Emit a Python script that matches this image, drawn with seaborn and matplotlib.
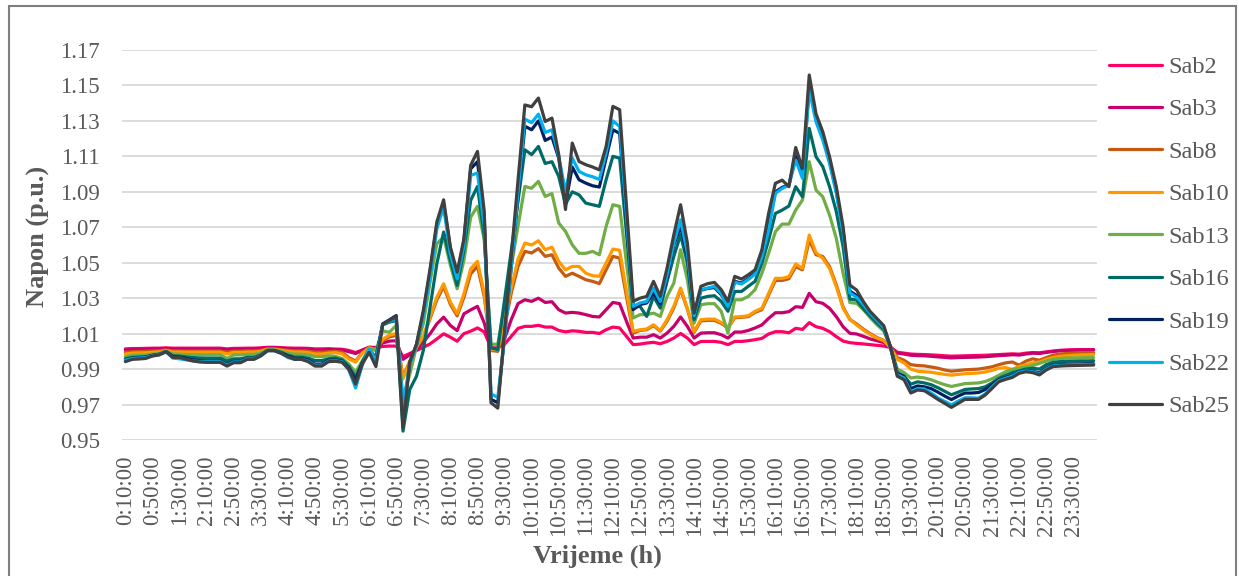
import matplotlib
matplotlib.use("Agg")
import matplotlib.pyplot as plt
import numpy as np
import pandas as pd
import seaborn as sns
from matplotlib.lines import Line2D
from matplotlib.patches import Rectangle

# ---------------- data ----------------
series_names = ["Sab2", "Sab3", "Sab8", "Sab10", "Sab13", "Sab16", "Sab19", "Sab22", "Sab25"]
series_colors = ["#FF0066", "#C8006E", "#C55A11", "#FF9900", "#70AD47",
                 "#006B66", "#002060", "#00B0F0", "#404040"]

# time categories: every 10 minutes from 0:10:00
time_labels = [f"{((k + 1) * 10) // 60}:{((k + 1) * 10) % 60:02d}:00" for k in range(144)]

sab2 = [1.0014, 1.0016, 1.0016, 1.0017, 1.0018, 1.0018, 1.0020, 1.0018, 1.0018, 1.0018, 1.0018, 1.0018, 1.0018, 1.0018, 1.0018, 1.0014, 1.0017, 1.0017, 1.0018, 1.0018, 1.0020, 1.0023, 1.0023, 1.0021, 1.0019, 1.0018, 1.0018, 1.0017, 1.0014, 1.0014, 1.0015,
        1.0013, 1.0012, 1.0005, 0.9993, 1.0008, 1.0023, 1.0020, 1.0028, 1.0030, 1.0030,
        0.9970, 0.9988, 1.0005, 1.0023, 1.0042, 1.0070, 1.0099, 1.0080, 1.0057, 1.0100,
        1.0114, 1.0132, 1.0110, 1.0020, 1.0020, 1.0040, 1.0085, 1.0130, 1.0141, 1.0141,
        1.0147, 1.0137, 1.0137, 1.0118, 1.0110, 1.0116, 1.0113, 1.0107, 1.0107, 1.0101,
        1.0122, 1.0137, 1.0132, 1.0085, 1.0038, 1.0041, 1.0047, 1.0051, 1.0043, 1.0056,
        1.0075, 1.0101, 1.0075, 1.0038, 1.0056, 1.0056, 1.0056, 1.0051, 1.0038, 1.0056,
        1.0056, 1.0060, 1.0066, 1.0073, 1.0098, 1.0111, 1.0111, 1.0105, 1.0130, 1.0124,
        1.0162, 1.0139, 1.0130, 1.0111, 1.0083, 1.0058, 1.0049, 1.0045, 1.0042, 1.0038,
        1.0034, 1.0030, 1.0022, 0.9995, 0.9990, 0.9985, 0.9983, 0.9982, 0.9980, 0.9978,
        0.9975, 0.9973, 0.9974, 0.9975, 0.9976, 0.9977, 0.9978, 0.9980, 0.9982, 0.9984,
        0.9986, 0.9984, 0.9990, 0.9993, 0.9992, 0.9997, 1.0002, 1.0006, 1.0008, 1.0009, 1.0010, 1.0010, 1.0010]

sab3 = [1.0008, 1.0010, 1.0011, 1.0012, 1.0013, 1.0014, 1.0016, 1.0013, 1.0013, 1.0013, 1.0013, 1.0013, 1.0013, 1.0013, 1.0013, 1.0008, 1.0012, 1.0012, 1.0013, 1.0014, 1.0016, 1.0020, 1.0020, 1.0018, 1.0015, 1.0013, 1.0013, 1.0012, 1.0008, 1.0008, 1.0010,
        1.0010, 1.0008, 0.9998, 0.9988, 1.0005, 1.0023, 1.0022, 1.0047, 1.0058, 1.0060,
        0.9955, 0.9980, 1.0008, 1.0052, 1.0099, 1.0155, 1.0193, 1.0146, 1.0117, 1.0212,
        1.0234, 1.0254, 1.0160, 1.0015, 1.0015, 1.0070, 1.0180, 1.0270, 1.0291, 1.0282,
        1.0300, 1.0276, 1.0280, 1.0235, 1.0216, 1.0220, 1.0216, 1.0207, 1.0197, 1.0194,
        1.0235, 1.0276, 1.0269, 1.0170, 1.0075, 1.0080, 1.0080, 1.0094, 1.0075, 1.0103,
        1.0141, 1.0194, 1.0141, 1.0075, 1.0103, 1.0105, 1.0105, 1.0094, 1.0075, 1.0109,
        1.0109, 1.0118, 1.0132, 1.0149, 1.0186, 1.0218, 1.0218, 1.0224, 1.0252, 1.0248,
        1.0327, 1.0280, 1.0271, 1.0243, 1.0196, 1.0139, 1.0102, 1.0098, 1.0085, 1.0070,
        1.0060, 1.0050, 1.0025, 0.9990, 0.9985, 0.9978, 0.9976, 0.9975, 0.9972, 0.9969,
        0.9966, 0.9963, 0.9965, 0.9966, 0.9967, 0.9968, 0.9970, 0.9973, 0.9976, 0.9978,
        0.9981, 0.9979, 0.9985, 0.9990, 0.9988, 0.9994, 0.9999, 1.0003, 1.0005, 1.0006, 1.0007, 1.0008, 1.0008]

sab8 = [0.9995, 0.9998, 0.9999, 1.0000, 1.0002, 1.0004, 1.0008, 1.0003, 1.0003, 1.0002, 1.0002, 1.0002, 1.0002, 1.0002, 1.0002, 0.9995, 1.0001, 1.0001, 1.0003, 1.0003, 1.0006, 1.0014, 1.0014, 1.0010, 1.0006, 1.0003, 1.0003, 1.0001, 0.9995, 0.9995, 0.9998,
        1.0000, 0.9995, 0.9965, 0.9945, 0.9993, 1.0021, 1.0012, 1.0060, 1.0082, 1.0090,
        0.9854, 0.9945, 1.0020, 1.0080, 1.0185, 1.0290, 1.0366, 1.0265, 1.0200, 1.0305,
        1.0437, 1.0480, 1.0310, 1.0005, 1.0000, 1.0140, 1.0330, 1.0480, 1.0564, 1.0555,
        1.0580, 1.0536, 1.0545, 1.0470, 1.0423, 1.0441, 1.0423, 1.0404, 1.0395, 1.0382,
        1.0460, 1.0536, 1.0526, 1.0310, 1.0103, 1.0118, 1.0122, 1.0145, 1.0114, 1.0170,
        1.0245, 1.0350, 1.0238, 1.0108, 1.0172, 1.0175, 1.0175, 1.0158, 1.0132, 1.0190,
        1.0192, 1.0196, 1.0220, 1.0235, 1.0318, 1.0400, 1.0400, 1.0410, 1.0478, 1.0460,
        1.0628, 1.0545, 1.0535, 1.0478, 1.0375, 1.0250, 1.0180, 1.0155, 1.0125, 1.0100,
        1.0078, 1.0062, 1.0025, 0.9965, 0.9950, 0.9925, 0.9920, 0.9918, 0.9912, 0.9905,
        0.9895, 0.9888, 0.9892, 0.9896, 0.9898, 0.9900, 0.9906, 0.9913, 0.9925, 0.9935,
        0.9940, 0.9922, 0.9945, 0.9958, 0.9950, 0.9965, 0.9978, 0.9985, 0.9988, 0.9990, 0.9991, 0.9992, 0.9992]

sab10 = [0.9985, 0.9990, 0.9991, 0.9992, 0.9995, 0.9997, 1.0004, 0.9996, 0.9996, 0.9995, 0.9995, 0.9995, 0.9995, 0.9995, 0.9995, 0.9985, 0.9994, 0.9994, 0.9996, 0.9996, 1.0000, 1.0012, 1.0012, 1.0006, 1.0000, 0.9996, 0.9996, 0.9993, 0.9985, 0.9985, 0.9990,
         0.9993, 0.9986, 0.9957, 0.9939, 0.9990, 1.0020, 1.0008, 1.0068, 1.0092, 1.0100,
         0.9845, 0.9940, 1.0025, 1.0089, 1.0193, 1.0306, 1.0381, 1.0278, 1.0212, 1.0325,
         1.0466, 1.0508, 1.0330, 1.0010, 1.0010, 1.0160, 1.0360, 1.0520, 1.0611, 1.0600,
         1.0624, 1.0573, 1.0588, 1.0508, 1.0460, 1.0479, 1.0479, 1.0441, 1.0427, 1.0423,
         1.0498, 1.0577, 1.0570, 1.0340, 1.0113, 1.0122, 1.0126, 1.0150, 1.0118, 1.0179,
         1.0254, 1.0357, 1.0244, 1.0113, 1.0179, 1.0182, 1.0182, 1.0163, 1.0137, 1.0194,
         1.0196, 1.0201, 1.0226, 1.0243, 1.0327, 1.0412, 1.0412, 1.0421, 1.0493, 1.0468,
         1.0656, 1.0557, 1.0525, 1.0468, 1.0365, 1.0243, 1.0180, 1.0149, 1.0120, 1.0095,
         1.0075, 1.0060, 1.0022, 0.9955, 0.9935, 0.9900, 0.9888, 0.9885, 0.9882, 0.9876,
         0.9870, 0.9866, 0.9870, 0.9874, 0.9876, 0.9878, 0.9884, 0.9893, 0.9905, 0.9908,
         0.9898, 0.9915, 0.9925, 0.9935, 0.9940, 0.9955, 0.9965, 0.9972, 0.9975, 0.9978, 0.9980, 0.9981, 0.9982]

sab13 = [0.9970, 0.9977, 0.9979, 0.9980, 0.9985, 0.9988, 1.0000, 0.9985, 0.9984, 0.9982, 0.9982, 0.9981, 0.9981, 0.9981, 0.9981, 0.9960, 0.9980, 0.9980, 0.9983, 0.9983, 0.9990, 1.0008, 1.0008, 1.0000, 0.9990, 0.9984, 0.9984, 0.9980, 0.9970, 0.9970, 0.9975,
         0.9972, 0.9960, 0.9929, 0.9882, 0.9948, 1.0014, 1.0005, 1.0115, 1.0108, 1.0146,
         0.9740, 0.9870, 1.0030, 1.0155, 1.0391, 1.0607, 1.0645, 1.0485, 1.0353, 1.0513,
         1.0758, 1.0818, 1.0630, 1.0040, 1.0040, 1.0260, 1.0480, 1.0710, 1.0930, 1.0920,
         1.0959, 1.0874, 1.0890, 1.0724, 1.0677, 1.0601, 1.0553, 1.0553, 1.0564, 1.0545,
         1.0705, 1.0827, 1.0818, 1.0500, 1.0188, 1.0207, 1.0207, 1.0216, 1.0197, 1.0310,
         1.0385, 1.0573, 1.0404, 1.0160, 1.0263, 1.0269, 1.0269, 1.0226, 1.0103, 1.0291,
         1.0291, 1.0310, 1.0348, 1.0440, 1.0553, 1.0675, 1.0718, 1.0718, 1.0797, 1.0854,
         1.1070, 1.0910, 1.0872, 1.0769, 1.0637, 1.0440, 1.0275, 1.0271, 1.0235, 1.0190,
         1.0150, 1.0115, 1.0025, 0.9900, 0.9880, 0.9850, 0.9855, 0.9850, 0.9840, 0.9825,
         0.9812, 0.9802, 0.9810, 0.9818, 0.9820, 0.9822, 0.9830, 0.9845, 0.9865, 0.9885,
         0.9898, 0.9905, 0.9912, 0.9920, 0.9932, 0.9945, 0.9955, 0.9960, 0.9962, 0.9963, 0.9964, 0.9965, 0.9965]

sab16 = [0.9958, 0.9966, 0.9968, 0.9970, 0.9978, 0.9984, 0.9999, 0.9975, 0.9973, 0.9968, 0.9965, 0.9963, 0.9962, 0.9962, 0.9962, 0.9945, 0.9958, 0.9958, 0.9966, 0.9966, 0.9980, 1.0006, 1.0006, 0.9995, 0.9978, 0.9968, 0.9968, 0.9962, 0.9948, 0.9948, 0.9958,
         0.9962, 0.9952, 0.9915, 0.9854, 0.9940, 1.0008, 0.9967, 1.0150, 1.0165, 1.0174,
         0.9550, 0.9785, 0.9860, 1.0005, 1.0249, 1.0494, 1.0673, 1.0513, 1.0372, 1.0569,
         1.0852, 1.0930, 1.0650, 1.0020, 1.0010, 1.0290, 1.0570, 1.0850, 1.1137, 1.1110,
         1.1156, 1.1060, 1.1070, 1.0987, 1.0830, 1.0900, 1.0883, 1.0836, 1.0827, 1.0818,
         1.0968, 1.1100, 1.1090, 1.0670, 1.0250, 1.0254, 1.0197, 1.0310, 1.0244, 1.0395,
         1.0536, 1.0658, 1.0498, 1.0179, 1.0300, 1.0310, 1.0314, 1.0282, 1.0226, 1.0338,
         1.0338, 1.0367, 1.0395, 1.0496, 1.0628, 1.0778, 1.0797, 1.0820, 1.0929, 1.0872,
         1.1258, 1.1098, 1.1042, 1.0929, 1.0788, 1.0590, 1.0295, 1.0290, 1.0240, 1.0200,
         1.0160, 1.0125, 1.0025, 0.9880, 0.9860, 0.9815, 0.9828, 0.9822, 0.9812, 0.9795,
         0.9775, 0.9755, 0.9770, 0.9785, 0.9788, 0.9790, 0.9800, 0.9822, 0.9848, 0.9865,
         0.9880, 0.9890, 0.9900, 0.9905, 0.9900, 0.9925, 0.9938, 0.9942, 0.9944, 0.9945, 0.9946, 0.9946, 0.9947]

sab19 = [0.9952, 0.9962, 0.9964, 0.9967, 0.9977, 0.9983, 0.9999, 0.9970, 0.9968, 0.9960, 0.9952, 0.9948, 0.9946, 0.9946, 0.9946, 0.9928, 0.9944, 0.9944, 0.9960, 0.9960, 0.9978, 1.0005, 1.0005, 0.9992, 0.9974, 0.9960, 0.9960, 0.9950, 0.9928, 0.9928, 0.9950,
         0.9950, 0.9945, 0.9905, 0.9835, 0.9935, 1.0000, 0.9955, 1.0155, 1.0178, 1.0202,
         0.9628, 0.9935, 1.0038, 1.0215, 1.0450, 1.0712, 1.0835, 1.0580, 1.0430, 1.0625,
         1.1030, 1.1070, 1.0750, 0.9730, 0.9710, 1.0090, 1.0480, 1.0880, 1.1270, 1.1250,
         1.1300, 1.1190, 1.1209, 1.1090, 1.0830, 1.1040, 1.0968, 1.0949, 1.0934, 1.0927,
         1.1090, 1.1250, 1.1230, 1.0730, 1.0235, 1.0264, 1.0273, 1.0330, 1.0270, 1.0420,
         1.0600, 1.0705, 1.0540, 1.0195, 1.0345, 1.0355, 1.0360, 1.0320, 1.0260, 1.0395,
         1.0385, 1.0410, 1.0440, 1.0545, 1.0712, 1.0900, 1.0925, 1.0940, 1.1100, 1.0990,
         1.1500, 1.1310, 1.1210, 1.1075, 1.0905, 1.0680, 1.0340, 1.0315, 1.0270, 1.0218,
         1.0178, 1.0140, 1.0022, 0.9875, 0.9858, 0.9790, 0.9805, 0.9800, 0.9790, 0.9770,
         0.9748, 0.9728, 0.9748, 0.9765, 0.9765, 0.9768, 0.9785, 0.9812, 0.9840, 0.9852,
         0.9862, 0.9883, 0.9892, 0.9888, 0.9878, 0.9905, 0.9922, 0.9925, 0.9927, 0.9928, 0.9929, 0.9930, 0.9930]

sab22 = [0.9950, 0.9960, 0.9962, 0.9965, 0.9975, 0.9982, 0.9998, 0.9962, 0.9958, 0.9952, 0.9946, 0.9943, 0.9942, 0.9942, 0.9942, 0.9922, 0.9940, 0.9940, 0.9958, 0.9958, 0.9976, 1.0004, 1.0004, 0.9990, 0.9965, 0.9955, 0.9955, 0.9945, 0.9922, 0.9922, 0.9945,
         0.9947, 0.9942, 0.9895, 0.9794, 0.9925, 1.0014, 0.9948, 1.0148, 1.0170, 1.0183,
         0.9684, 0.9930, 1.0035, 1.0200, 1.0419, 1.0692, 1.0814, 1.0550, 1.0409, 1.0598,
         1.0993, 1.1006, 1.0710, 0.9760, 0.9740, 1.0070, 1.0480, 1.0900, 1.1310, 1.1290,
         1.1338, 1.1235, 1.1250, 1.1100, 1.0900, 1.1090, 1.1015, 1.0996, 1.0985, 1.0970,
         1.1120, 1.1300, 1.1269, 1.0760, 1.0254, 1.0273, 1.0282, 1.0357, 1.0282, 1.0433,
         1.0610, 1.0742, 1.0555, 1.0200, 1.0348, 1.0357, 1.0367, 1.0326, 1.0254, 1.0390,
         1.0380, 1.0405, 1.0435, 1.0534, 1.0684, 1.0891, 1.0919, 1.0938, 1.1079, 1.0976,
         1.1474, 1.1295, 1.1192, 1.1060, 1.0891, 1.0670, 1.0330, 1.0305, 1.0265, 1.0215,
         1.0175, 1.0135, 1.0022, 0.9868, 0.9850, 0.9772, 0.9790, 0.9788, 0.9765, 0.9738,
         0.9718, 0.9698, 0.9720, 0.9738, 0.9738, 0.9736, 0.9760, 0.9800, 0.9835, 0.9848,
         0.9860, 0.9882, 0.9890, 0.9885, 0.9872, 0.9900, 0.9918, 0.9921, 0.9923, 0.9924, 0.9925, 0.9926, 0.9926]

sab25 = [0.9942, 0.9955, 0.9957, 0.9960, 0.9974, 0.9980, 0.9998, 0.9966, 0.9966, 0.9955, 0.9946, 0.9940, 0.9938, 0.9938, 0.9938, 0.9917, 0.9936, 0.9936, 0.9955, 0.9955, 0.9974, 1.0004, 1.0004, 0.9989, 0.9970, 0.9955, 0.9955, 0.9942, 0.9917, 0.9917, 0.9942,
         0.9944, 0.9939, 0.9900, 0.9816, 0.9929, 0.9995, 0.9914, 1.0150, 1.0174, 1.0197,
         0.9570, 0.9940, 1.0042, 1.0230, 1.0466, 1.0730, 1.0855, 1.0588, 1.0447, 1.0635,
         1.1050, 1.1128, 1.0790, 0.9710, 0.9680, 1.0110, 1.0540, 1.0970, 1.1390, 1.1380,
         1.1429, 1.1297, 1.1316, 1.1110, 1.0800, 1.1175, 1.1071, 1.1053, 1.1040, 1.1024,
         1.1156, 1.1382, 1.1363, 1.0820, 1.0282, 1.0300, 1.0310, 1.0395, 1.0310, 1.0470,
         1.0658, 1.0827, 1.0611, 1.0216, 1.0367, 1.0382, 1.0389, 1.0348, 1.0282, 1.0423,
         1.0408, 1.0432, 1.0460, 1.0572, 1.0778, 1.0948, 1.0966, 1.0929, 1.1150, 1.1032,
         1.1559, 1.1340, 1.1239, 1.1098, 1.0929, 1.0703, 1.0374, 1.0346, 1.0280, 1.0225,
         1.0185, 1.0145, 1.0025, 0.9860, 0.9840, 0.9765, 0.9782, 0.9778, 0.9754, 0.9729,
         0.9707, 0.9684, 0.9707, 0.9729, 0.9729, 0.9729, 0.9754, 0.9791, 0.9829, 0.9842,
         0.9853, 0.9876, 0.9885, 0.9880, 0.9867, 0.9895, 0.9914, 0.9917, 0.9919, 0.9920, 0.9921, 0.9922, 0.9923]

y_ticks = [0.95, 0.97, 0.99, 1.01, 1.03, 1.05, 1.07, 1.09, 1.11, 1.13, 1.15, 1.17]

series_values = [sab2, sab3, sab8, sab10, sab13, sab16, sab19, sab22, sab25]

# ---------------- style ----------------
sns.set_theme(style="white")
plt.rcParams['font.family'] = ['Liberation Serif', 'DejaVu Serif']
TXT = "#595959"

frames = []
for name, vals in zip(series_names, series_values):
    frames.append(pd.DataFrame({"idx": np.arange(len(vals)), "time": time_labels[:len(vals)],
                                "Napon": vals, "series": name}))
df = pd.concat(frames, ignore_index=True)

W, H = 1239, 576
fig = plt.figure(figsize=(W / 100, H / 100), dpi=100)
ax = fig.add_axes([122 / W, 1 - 440 / H, (1097 - 122) / W, (440 - 50) / H])

sns.lineplot(data=df, x="idx", y="Napon", hue="series", hue_order=series_names,
             palette=series_colors, linewidth=2.3, legend=False, ax=ax, sort=False)

ax.set_xlim(-0.5, 143.5)
ax.set_ylim(0.95, 1.17)
ax.set_yticks(y_ticks)
ax.set_yticklabels([f"{v:.2f}" for v in y_ticks])
tick_pos = list(range(0, 144, 4))
ax.set_xticks(tick_pos)
ax.set_xticklabels([time_labels[i] for i in tick_pos], rotation=90)
ax.grid(False)
ax.yaxis.grid(True, color="#D9D9D9", linewidth=1.3)
ax.set_axisbelow(True)
for s in ax.spines.values():
    s.set_visible(False)
ax.tick_params(axis="y", length=0, pad=16, labelsize=16.5, labelcolor=TXT)
ax.tick_params(axis="x", length=0, pad=11, labelsize=16.5, labelcolor=TXT)
ax.set_xlabel("")
ax.set_ylabel("")

fig.text(38 / W, 1 - 236 / H, "Napon (p.u.)", rotation=90, ha="center", va="center",
         fontsize=19, fontweight="bold", color=TXT)
fig.text(597 / W, 1 - 556 / H, "Vrijeme (h)", ha="center", va="center",
         fontsize=19, fontweight="bold", color=TXT)

handles = [Line2D([0], [0], color=c, lw=2.3) for c in series_colors]
fig.legend(handles, series_names, loc="upper left", bbox_to_anchor=(1109 / W, 1 - 56 / H),
           frameon=False, fontsize=17.5, labelcolor=TXT, handlelength=2.2,
           handletextpad=0.25, labelspacing=0.84, borderpad=0, borderaxespad=0)

# chart-area border
fig.patches.append(Rectangle((9 / W, -0.02), (1236 - 9) / W, 1 - 6 / H + 0.02,
                             transform=fig.transFigure, fill=False,
                             edgecolor="#7F7F7F", linewidth=1.5))

fig.savefig("out.png", dpi=100)
